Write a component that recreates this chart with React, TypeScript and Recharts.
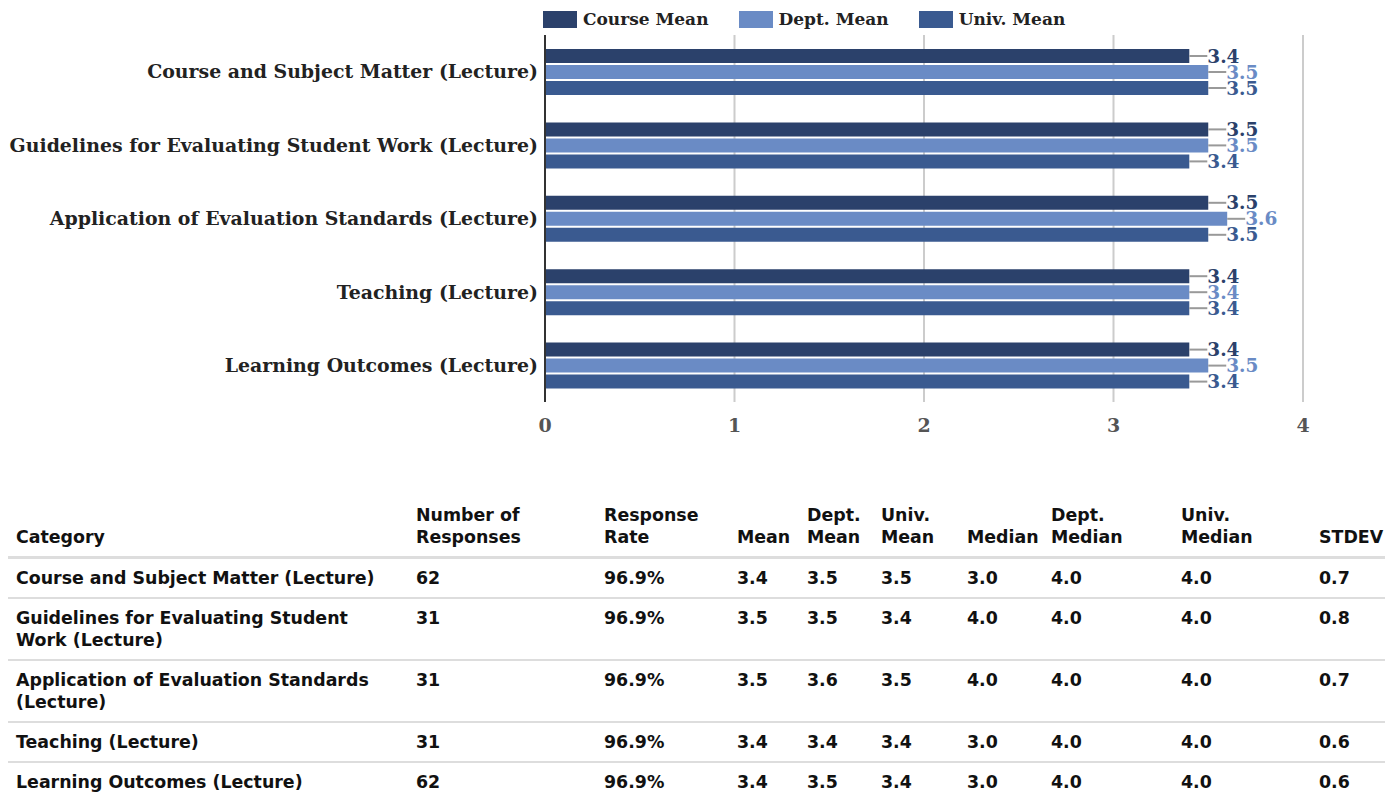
import { BarChart, Bar, XAxis, YAxis, CartesianGrid, Legend, LabelList } from "recharts";

const categories = [
  "Course and Subject Matter (Lecture)",
  "Guidelines for Evaluating Student Work (Lecture)",
  "Application of Evaluation Standards (Lecture)",
  "Teaching (Lecture)",
  "Learning Outcomes (Lecture)",
];
const tableCategories = [
  ["Course and Subject Matter (Lecture)"],
  ["Guidelines for Evaluating Student", "Work (Lecture)"],
  ["Application of Evaluation Standards", "(Lecture)"],
  ["Teaching (Lecture)"],
  ["Learning Outcomes (Lecture)"],
];
const courseMean = [3.4, 3.5, 3.5, 3.4, 3.4];
const deptMean = [3.5, 3.5, 3.6, 3.4, 3.5];
const univMean = [3.5, 3.4, 3.5, 3.4, 3.4];
const responses = [62, 31, 31, 31, 62];
const responseRate = ["96.9%", "96.9%", "96.9%", "96.9%", "96.9%"];
const median = [3.0, 4.0, 4.0, 3.0, 3.0];
const deptMedian = [4.0, 4.0, 4.0, 4.0, 4.0];
const univMedian = [4.0, 4.0, 4.0, 4.0, 4.0];
const stdev = [0.7, 0.8, 0.7, 0.6, 0.6];
const xTicks = [0, 1, 2, 3, 4];

const COURSE = "#2b416b";
const DEPT = "#6a8bc5";
const UNIV = "#3a5a90";
const SERIF = "'DejaVu Serif', serif";
const SANS = "'DejaVu Sans', sans-serif";

const series = [
  { key: "course", name: "Course Mean", color: COURSE },
  { key: "dept", name: "Dept. Mean", color: DEPT },
  { key: "univ", name: "Univ. Mean", color: UNIV },
];

const chartData = categories.map((name, i) => ({
  name,
  course: courseMean[i],
  dept: deptMean[i],
  univ: univMean[i],
}));

const headers = [
  { label: ["Number of", "Responses"], w: 188 },
  { label: ["Response", "Rate"], w: 133 },
  { label: ["Mean"], w: 70 },
  { label: ["Dept.", "Mean"], w: 74 },
  { label: ["Univ.", "Mean"], w: 86 },
  { label: ["Median"], w: 84 },
  { label: ["Dept.", "Median"], w: 130 },
  { label: ["Univ.", "Median"], w: 138 },
  { label: ["STDEV"], w: 80 },
];

function makeLabel(color: string) {
  return (props: any) => {
    const { x, y, width, height, value } = props;
    const x0 = Number(x) + Number(width);
    const cy = Number(y) + Number(height) / 2;
    return (
      <g>
        <line x1={x0} y1={cy} x2={x0 + 18} y2={cy} stroke="#999" strokeWidth={2} />
        <text
          x={x0 + 18}
          y={cy}
          dominantBaseline="central"
          fill={color}
          fontFamily={SERIF}
          fontWeight="bold"
          fontSize={18.5}
        >
          {Number(value).toFixed(1)}
        </text>
      </g>
    );
  };
}

function LegendContent() {
  return (
    <div style={{ display: "flex", alignItems: "center", paddingLeft: 535, paddingTop: 3, paddingBottom: 7, height: 17, boxSizing: "content-box" }}>
      {series.map((s) => (
        <div key={s.key} style={{ display: "flex", alignItems: "center", marginRight: 30 }}>
          <span style={{ display: "inline-block", width: 34, height: 17, background: s.color, marginRight: 6 }} />
          <span style={{ fontFamily: SERIF, fontWeight: "bold", fontSize: 17, color: "#222", lineHeight: "17px" }}>{s.name}</span>
        </div>
      ))}
    </div>
  );
}

const cell = { padding: 8, lineHeight: "22px", textAlign: "left" as const };

export default function App() {
  return (
    <div style={{ width: 1377 }}>
      <style>{"body{overflow:hidden}"}</style>
      <BarChart
        width={1377}
        height={480}
        data={chartData}
        layout="vertical"
        margin={{ top: 0, right: 82, left: 0, bottom: 46 }}
        barSize={14}
        barGap={2}
      >
        <CartesianGrid horizontal={false} stroke="#cccccc" strokeWidth={2} />
        <XAxis
          type="number"
          domain={[0, 4]}
          ticks={xTicks}
          axisLine={false}
          tickLine={false}
          tickMargin={11}
          height={40}
          tick={{ fontSize: 19, fontWeight: "bold", fill: "#555", fontFamily: SERIF }}
        />
        <YAxis
          type="category"
          dataKey="name"
          width={537}
          axisLine={{ stroke: "#333", strokeWidth: 2 }}
          tickLine={false}
          tickMargin={1}
          tick={{ fontSize: 18.9, fontWeight: "bold", fill: "#222", fontFamily: SERIF }}
        />
        <Legend verticalAlign="top" align="left" content={<LegendContent />} />
        {series.map((s) => (
          <Bar key={s.key} dataKey={s.key} name={s.name} fill={s.color} isAnimationActive={false}>
            <LabelList dataKey={s.key} content={makeLabel(s.color)} />
          </Bar>
        ))}
      </BarChart>
      <table
        style={{
          marginTop: 8,
          borderCollapse: "collapse",
          tableLayout: "fixed",
          width: 1383,
          fontFamily: SANS,
          fontWeight: "bold",
          fontSize: 17.4,
          color: "#111",
        }}
      >
        <colgroup>
          <col style={{ width: 400 }} />
          {headers.map((h, i) => (
            <col key={i} style={{ width: h.w }} />
          ))}
        </colgroup>
        <thead>
          <tr>
            <th style={{ ...cell, verticalAlign: "bottom", borderBottom: "3px solid #ddd" }}>Category</th>
            {headers.map((h, i) => (
              <th key={i} style={{ ...cell, verticalAlign: "bottom", borderBottom: "3px solid #ddd" }}>
                {h.label.map((l, j) => (
                  <div key={j}>{l}</div>
                ))}
              </th>
            ))}
          </tr>
        </thead>
        <tbody>
          {tableCategories.map((lines, i) => (
            <tr key={i}>
              <td style={{ ...cell, verticalAlign: "top", borderBottom: "2px solid #ddd" }}>
                {lines.map((l, j) => (
                  <div key={j}>{l}</div>
                ))}
              </td>
              {[
                String(responses[i]),
                responseRate[i],
                courseMean[i].toFixed(1),
                deptMean[i].toFixed(1),
                univMean[i].toFixed(1),
                median[i].toFixed(1),
                deptMedian[i].toFixed(1),
                univMedian[i].toFixed(1),
                stdev[i].toFixed(1),
              ].map((v, j) => (
                <td key={j} style={{ ...cell, verticalAlign: "top", borderBottom: "2px solid #ddd" }}>
                  {v}
                </td>
              ))}
            </tr>
          ))}
        </tbody>
      </table>
    </div>
  );
}
